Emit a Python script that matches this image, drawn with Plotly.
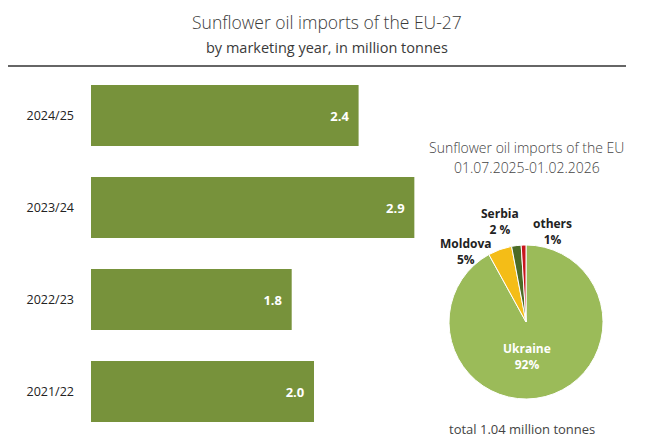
import plotly.graph_objects as go

years = ["2024/25", "2023/24", "2022/23", "2021/22"]
imports_mt = [2.4, 2.9, 1.8, 2.0]

origins = ["Ukraine", "Moldova", "Serbia", "others"]
shares = [92, 5, 2, 1]
share_labels = ["92%", "5%", "2 %", "1%"]
pie_colors = ["#9bbb59", "#f4bd17", "#4b6b26", "#c8161d"]

W, H = 654, 444
FONT = "Open Sans"

fig = go.Figure()

fig.add_trace(go.Bar(
    y=years, x=imports_mt, orientation="h",
    marker=dict(color="#77923b", line=dict(width=0)),
    text=[f"{v:.1f}  " for v in imports_mt],
    textposition="inside", insidetextanchor="end",
    textfont=dict(family=FONT, size=13, color="white", weight="bold"),
    hoverinfo="skip",
    xaxis="x", yaxis="y",
))

fig.add_trace(go.Pie(
    labels=origins, values=shares, sort=False, direction="clockwise", rotation=0,
    marker=dict(colors=pie_colors, line=dict(color="white", width=1)),
    textinfo="none",
    domain=dict(x=[449 / W, 603 / W], y=[1 - 399 / H, 1 - 245 / H]),
    showlegend=False, hoverinfo="skip",
))

def px(x):
    return x / W

def py(y):
    return 1 - y / H

annos = []
annos.append(dict(x=px(327), y=py(22), text="Sunflower oil imports of the EU-27",
                  font=dict(family=FONT, size=17.5, color="#3a3a3a", weight=300)))
annos.append(dict(x=px(327), y=py(47), text="by marketing year, in million tonnes",
                  font=dict(family=FONT, size=14.5, color="#3a3a3a")))
annos.append(dict(x=px(526), y=py(148), text="Sunflower oil imports of the EU",
                  font=dict(family=FONT, size=14, color="#444444", weight=300)))
annos.append(dict(x=px(527), y=py(167), text="01.07.2025-01.02.2026",
                  font=dict(family=FONT, size=14, color="#444444", weight=300)))
annos.append(dict(x=px(522), y=py(429), text="total 1.04 million tonnes",
                  font=dict(family=FONT, size=13, color="#444444")))
# slice labels
label_pos = {"Ukraine": (527, 356), "Moldova": (466, 251), "Serbia": (500, 221), "others": (552, 231)}
for o, s in zip(origins, share_labels):
    x0, y0 = label_pos[o]
    col = "white" if o == "Ukraine" else "#222222"
    annos.append(dict(x=px(x0), y=py(y0), text=f"{o}<br>{s}",
                      font=dict(family=FONT, size=12, color=col, weight="bold")))
for a in annos:
    a.update(xref="paper", yref="paper", showarrow=False, xanchor="center", yanchor="middle")

fig.update_layout(
    width=W, height=H,
    margin=dict(l=0, r=0, t=0, b=0),
    paper_bgcolor="white", plot_bgcolor="white",
    bargap=0.337,
    xaxis=dict(domain=[91 / W, 425.5 / W], range=[0, 3.0], visible=False, fixedrange=True),
    yaxis=dict(domain=[1 - 437.5 / H, 1 - 69.5 / H], categoryorder="array",
               categoryarray=years, autorange="reversed",
               showgrid=False, showline=False, zeroline=False, ticks="",
               ticklabelstandoff=16,
               tickfont=dict(family=FONT, size=12.5, color="#222222")),
    annotations=annos,
    shapes=[dict(type="line", xref="paper", yref="paper", x0=px(8), x1=px(626),
                 y0=py(66), y1=py(66), line=dict(color="#333333", width=1.5))],
    showlegend=False,
)

fig.write_html("out.html")
